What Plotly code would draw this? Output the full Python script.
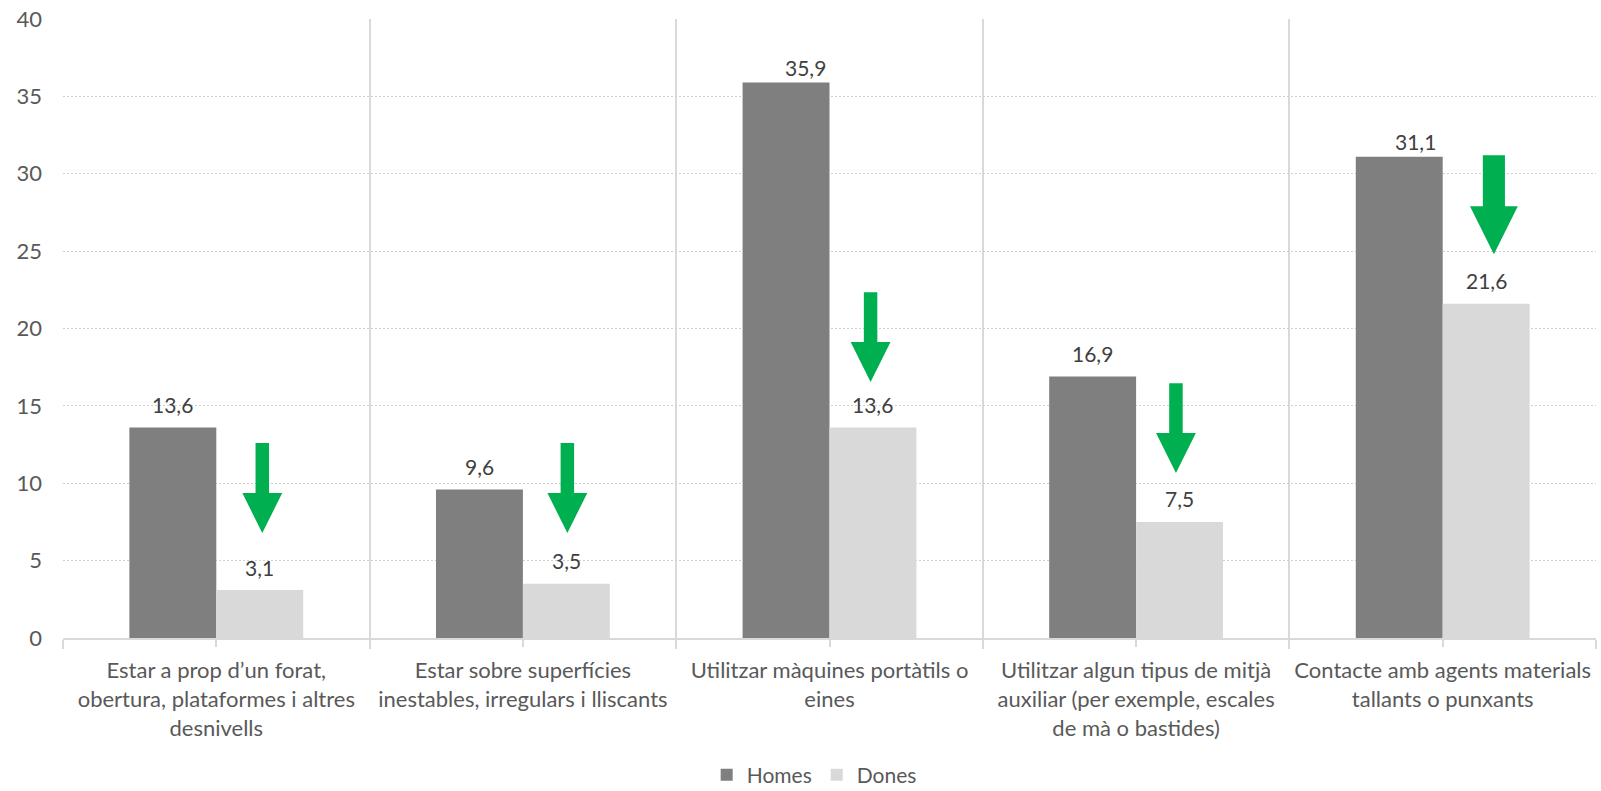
import plotly.graph_objects as go

categories = [
    "Estar a prop d’un forat,<br>obertura, plataformes i altres<br>desnivells",
    "Estar sobre superfícies<br>inestables, irregulars i lliscants",
    "Utilitzar màquines portàtils o<br>eines",
    "Utilitzar algun tipus de mitjà<br>auxiliar (per exemple, escales<br>de mà o bastides)",
    "Contacte amb agents materials<br>tallants o punxants",
]
homes = [13.6, 9.6, 35.9, 16.9, 31.1]
dones = [3.1, 3.5, 13.6, 7.5, 21.6]
series_names = ["Homes", "Dones"]
y_ticks = [0, 5, 10, 15, 20, 25, 30, 35, 40]

# decorative green arrows: (x centre, top, head start, tip, shaft half-width, head half-width)
arrows = [
    (0.150, 12.6, 9.37, 6.78, 0.022, 0.065),
    (1.145, 12.6, 9.37, 6.78, 0.022, 0.065),
    (2.134, 22.35, 19.12, 16.54, 0.022, 0.065),
    (3.130, 16.47, 13.24, 10.66, 0.022, 0.065),
    (4.167, 31.2, 27.9, 24.8, 0.036, 0.078),
]

FONT = "Lato, 'Open Sans', sans-serif"
x = list(range(len(categories)))

fig = go.Figure()
fig.add_trace(go.Bar(x=x, y=homes, name=series_names[0], marker_color="#7F7F7F", marker_line_width=0))
fig.add_trace(go.Bar(x=x, y=dones, name=series_names[1], marker_color="#D9D9D9", marker_line_width=0))

bar_off = 0.1418
# label nudges in pixels (x shift, y offset above bar)
nudges_h = [(0, 23), (0, 23), (19, 15), (0, 23), (16, 15)]
nudges_d = [(0, 23), (0, 23), (0, 23), (0, 23), (0, 23)]
for i in x:
    for vals, sign, nudges in ((homes, -1, nudges_h), (dones, 1, nudges_d)):
        v = vals[i]
        dx, dy = nudges[i]
        fig.add_annotation(
            x=i + sign * bar_off, y=v, xref="x", yref="y",
            text=f"{v:.1f}".replace(".", ","), showarrow=False,
            yanchor="middle", yshift=dy, xshift=dx,
            font=dict(family=FONT, size=21, color="#404040"),
        )

for (cx, top, head, tip, sw, hw) in arrows:
    path = (f"M {cx-sw},{top} L {cx+sw},{top} L {cx+sw},{head} L {cx+hw},{head} "
            f"L {cx},{tip} L {cx-hw},{head} L {cx-sw},{head} Z")
    fig.add_shape(type="path", path=path, xref="x", yref="y",
                  fillcolor="#00B050", line=dict(width=0), layer="above")

bounds = [i - 0.5 for i in range(len(categories) + 1)]

fig.update_layout(
    width=1601, height=791,
    margin=dict(l=63, r=5, t=19, b=153, autoexpand=False),
    paper_bgcolor="white", plot_bgcolor="white",
    barmode="group", bargap=0.433, bargroupgap=0,
    font=dict(family=FONT, size=22, color="#595959"),
    showlegend=True,
    legend=dict(orientation="h", x=0.49, xanchor="center", yref="container", y=0.02, yanchor="middle",
                font=dict(family=FONT, size=21, color="#595959"), itemwidth=30,
                tracegroupgap=0, traceorder="normal"),
    xaxis=dict(
        range=[-0.5, 4.5], tickmode="array", tickvals=x, ticktext=categories,
        showgrid=False, zeroline=False, automargin=False,
        ticks="outside", ticklen=7, tickcolor="#D9D9D9", tickwidth=1.5,
        showline=True, linecolor="#D9D9D9", linewidth=2,
        tickfont=dict(family=FONT, size=22, color="#595959"),
        ticklabelstandoff=5,
        minor=dict(tickmode="array", tickvals=bounds, showgrid=True, gridcolor="#D9D9D9",
                   gridwidth=1.5, ticks="outside", ticklen=9, tickcolor="#D9D9D9", tickwidth=1.5),
    ),
    yaxis=dict(
        range=[0, 40], tickmode="array", tickvals=y_ticks,
        showgrid=True, gridcolor="#D0D0D0", gridwidth=1, griddash="2px,2px",
        zeroline=False, showline=False, automargin=False,
        tickfont=dict(family=FONT, size=22, color="#595959"),
        ticklabelstandoff=20,
    ),
)

fig.write_html("out.html")
